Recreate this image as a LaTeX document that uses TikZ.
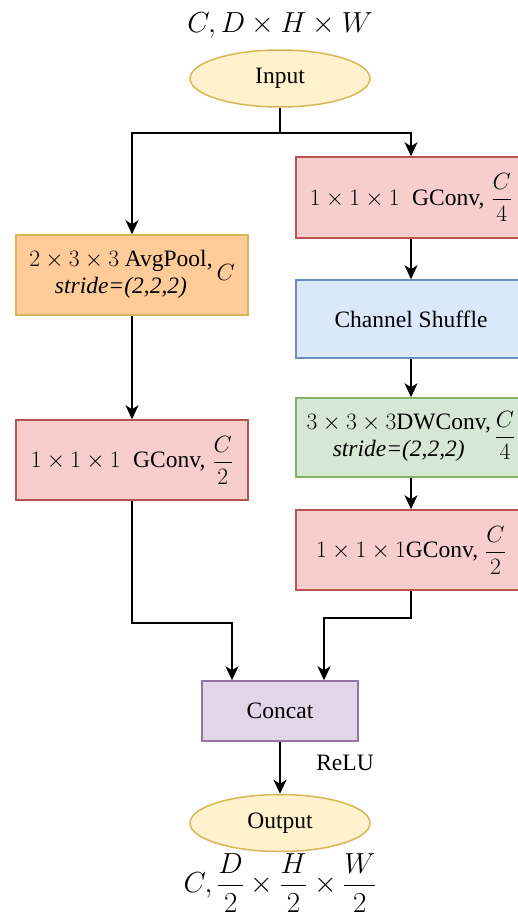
\RequirePackage{fix-cm}
\documentclass[tikz,border=0pt]{standalone}
\usepackage{amsmath}
\usepackage{fontspec}
\setmainfont{Liberation Serif}
\usetikzlibrary{shapes.geometric,arrows.meta}
\definecolor{ellF}{HTML}{FFF2CC}
\definecolor{ellS}{HTML}{D6B656}
\definecolor{orgF}{HTML}{FFCC99}
\definecolor{redF}{HTML}{F8CECC}
\definecolor{redS}{HTML}{B85450}
\definecolor{bluF}{HTML}{DAE8FC}
\definecolor{bluS}{HTML}{6C8EBF}
\definecolor{grnF}{HTML}{D5E8D4}
\definecolor{grnS}{HTML}{82B366}
\definecolor{purF}{HTML}{E1D5E7}
\definecolor{purS}{HTML}{9673A6}
\begin{document}
\begin{tikzpicture}[x=1pt,y=-1pt,
  every node/.style={font=\fontsize{23.5}{27}\selectfont, inner sep=0pt},
  ell/.style={ellipse, draw=ellS, fill=ellF, line width=1.5pt, minimum width=180pt, minimum height=57pt},
  box/.style={rectangle, line width=1.5pt, minimum width=232pt, minimum height=80pt, align=center},
  rbox/.style={box, minimum width=230pt},
  redbox/.style={fill=redF, draw=redS},
  lbl/.style={font=\fontsize{29}{33}\selectfont},
  conn/.style={line width=1.8pt, draw=black},
  arr/.style={conn, -{Stealth[length=14pt,width=13pt,inset=4pt]}}
]
\clip (0,0) rectangle (518,918);
\fill[white] (0,0) rectangle (518,918);

\node[lbl] (top) at (280,25) {$C, D\times H\times W$};
\node[ell] (in) at (280,78.5) {Input};

\node[box, fill=orgF, draw=ellS] (avg) at (132,275)
  {\begin{tabular}[c]{@{}c@{}}$2\times3\times3$ AvgPool,\\ \textit{stride=(2,2,2)}\end{tabular}\,$C$};
\node[box, redbox] (g1) at (132,460) {$1\times1\times1\;$ GConv,\hspace{0.3em}$\dfrac{C}{2}$};

\node[rbox, redbox, minimum height=81pt] (g4) at (411,197.5) {$1\times1\times1\;$ GConv,\hspace{0.3em}$\dfrac{C}{4}$};
\node[rbox, fill=bluF, draw=bluS, minimum height=78pt] (cs) at (411,319) {Channel Shuffle};
\node[rbox, fill=grnF, draw=grnS, minimum height=79pt] (dw) at (411,437.5)
  {\begin{tabular}[c]{@{}c@{}}$3\times3\times3$DWConv,\\ \textit{stride=(2,2,2)}\end{tabular}\,$\dfrac{C}{4}$};
\node[rbox, redbox] (g2) at (411,550) {$1\times1\times1$GConv,\hspace{0.3em}$\dfrac{C}{2}$};

\node[box, fill=purF, draw=purS, minimum width=156pt, minimum height=60pt] (cat) at (280,711) {Concat};
\node (relu) at (345,763) {ReLU};
\node[ell] (out) at (280,823) {Output};
\node[lbl] (bot) at (280,883) {$C, \dfrac{D}{2}\times\dfrac{H}{2}\times\dfrac{W}{2}$};

\coordinate (split) at (280,133);
\draw[conn] (in.south) -- (split);
\draw[arr] (split) -| (avg.north);
\draw[arr] (split) -| (g4.north);
\draw[arr] (avg) -- (g1);
\draw[arr] (g4) -- (cs);
\draw[arr] (cs) -- (dw);
\draw[arr] (dw) -- (g2);
\draw[arr] (g1.south) -- ++(0,122) -| ([xshift=-48pt]cat.north);
\draw[arr] (g2.south) -- ++(0,27) -| ([xshift=44pt]cat.north);
\draw[arr] (cat) -- (out);
\end{tikzpicture}
\end{document}
